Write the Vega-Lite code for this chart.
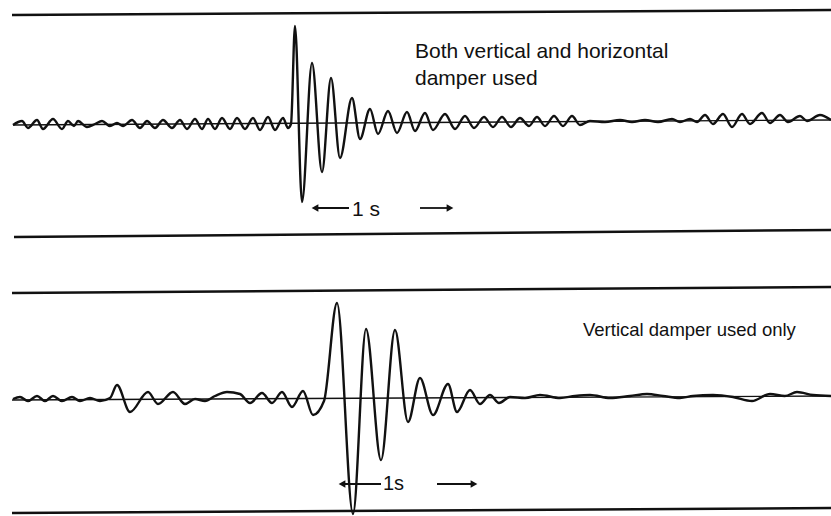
{
  "$schema": "https://vega.github.io/schema/vega-lite/v6.json",
  "padding": 0,
  "spacing": 0,
  "background": "white",
  "config": {"view": {"stroke": null}},
  "datasets": {
    "topTrace": [
      {"t":13,"d":0},{"t":22,"d":4},{"t":28,"d":-3},{"t":37,"d":5},{"t":43,"d":-4},{"t":53,"d":6},{"t":62,"d":-4},{"t":68,"d":4},{"t":74,"d":-1},{"t":78,"d":4},{"t":87,"d":-2},{"t":95,"d":1},{"t":102,"d":4},{"t":110,"d":-1},{"t":117,"d":2},{"t":123,"d":-1},{"t":132,"d":5},{"t":140,"d":-3},{"t":147,"d":4},{"t":155,"d":-3},{"t":163,"d":5},{"t":172,"d":-3},{"t":180,"d":5},{"t":187,"d":-4},{"t":195,"d":6},{"t":202,"d":-4},{"t":208,"d":6},{"t":215,"d":-4},{"t":222,"d":7},{"t":230,"d":-4},{"t":237,"d":7},{"t":245,"d":-4},{"t":253,"d":7},{"t":260,"d":-5},{"t":268,"d":8},{"t":275,"d":-5},{"t":283,"d":7},{"t":288,"d":-3},{"t":291,"d":1},
      {"t":295,"d":99},{"t":302,"d":-77},{"t":312,"d":62},{"t":322,"d":-47},{"t":331,"d":47},{"t":340,"d":-33},{"t":352,"d":27},{"t":360,"d":-14},{"t":370,"d":16},{"t":378,"d":-9},{"t":388,"d":14},{"t":397,"d":-8},{"t":407,"d":13},{"t":415,"d":-6},{"t":425,"d":12},{"t":433,"d":-5},{"t":445,"d":11},{"t":455,"d":-4},{"t":465,"d":9},{"t":474,"d":-3},{"t":484,"d":8},{"t":493,"d":-2},{"t":502,"d":8},{"t":511,"d":-2},{"t":520,"d":7},{"t":529,"d":-1},{"t":537,"d":8},{"t":545,"d":-1},{"t":554,"d":9},{"t":563,"d":-1},{"t":572,"d":9},{"t":580,"d":0},
      {"t":590,"d":4},{"t":605,"d":3},{"t":620,"d":5},{"t":632,"d":3},{"t":645,"d":5},{"t":658,"d":3},{"t":672,"d":6},{"t":680,"d":3},{"t":690,"d":6},{"t":697,"d":3},{"t":705,"d":10},{"t":713,"d":1},{"t":723,"d":11},{"t":732,"d":-2},{"t":742,"d":11},{"t":750,"d":1},{"t":762,"d":12},{"t":770,"d":2},{"t":780,"d":10},{"t":788,"d":3},{"t":800,"d":9},{"t":807,"d":4},{"t":820,"d":10},{"t":831,"d":5}
    ],
    "botTrace": [
      {"t":13,"d":1},{"t":20,"d":3},{"t":28,"d":-1},{"t":37,"d":4},{"t":45,"d":-1},{"t":53,"d":4},{"t":62,"d":-1},{"t":72,"d":3},{"t":80,"d":-1},{"t":90,"d":2},{"t":100,"d":-1},{"t":110,"d":2},{"t":117,"d":15},{"t":130,"d":-12},{"t":148,"d":8},{"t":158,"d":-4},{"t":173,"d":8},{"t":185,"d":-4},{"t":195,"d":1},{"t":205,"d":-1},{"t":215,"d":4},{"t":227,"d":8},{"t":240,"d":6},{"t":250,"d":-3},{"t":262,"d":7},{"t":272,"d":-3},{"t":282,"d":8},{"t":292,"d":-7},{"t":303,"d":9},{"t":313,"d":-15},{"t":324,"d":-1},
      {"t":337,"d":97},{"t":353,"d":-114},{"t":366,"d":71},{"t":381,"d":-60},{"t":395,"d":70},{"t":408,"d":-22},{"t":420,"d":22},{"t":433,"d":-15},{"t":448,"d":16},{"t":457,"d":-12},{"t":470,"d":10},{"t":480,"d":-4},{"t":490,"d":5},{"t":499,"d":-3},{"t":510,"d":3},
      {"t":525,"d":2},{"t":540,"d":5},{"t":560,"d":2},{"t":575,"d":4},{"t":590,"d":5},{"t":610,"d":2},{"t":630,"d":4},{"t":647,"d":6},{"t":663,"d":4},{"t":680,"d":2},{"t":693,"d":4},{"t":713,"d":5},{"t":733,"d":3},{"t":752,"d":-1},{"t":770,"d":6},{"t":785,"d":4},{"t":797,"d":8},{"t":813,"d":5},{"t":831,"d":4}
    ],
    "topFrame": [
      {"id":"upper","t":12,"d":110},{"id":"upper","t":831,"d":115},
      {"id":"lower","t":14,"d":-112},{"id":"lower","t":831,"d":-105}
    ],
    "topBase": [{"t":13,"d":0},{"t":831,"d":5}],
    "botFrame": [
      {"id":"upper","t":12,"d":107},{"id":"upper","t":831,"d":113},
      {"id":"lower","t":12,"d":-113},{"id":"lower","t":831,"d":-108}
    ],
    "botBase": [{"t":12,"d":0},{"t":831,"d":4}],
    "topText": [
      {"t":415,"d":67,"label":"Both vertical and horizontal"},
      {"t":415,"d":40,"label":"damper used"}
    ],
    "botText": [
      {"t":583,"d":64,"label":"Vertical damper used only"}
    ],
    "topScale": [{"t":352,"d":-91,"label":"1 s"}],
    "botScale": [{"t":383,"d":-90,"label":"1s"}],
    "topShafts": [{"t":316,"t2":349,"d":-83},{"t":420,"t2":448,"d":-83}],
    "botShafts": [{"t":342,"t2":381,"d":-84},{"t":437,"t2":472,"d":-84}],
    "topHeads": [{"t":315,"d":-83,"dir":"triangle-left"},{"t":450,"d":-83,"dir":"triangle-right"}],
    "botHeads": [{"t":342,"d":-84,"dir":"triangle-left"},{"t":474,"d":-84,"dir":"triangle-right"}]
  },
  "vconcat": [
    {
      "width": 831,
      "height": 258,
      "layer": [
        {
          "data": {"name": "topFrame"},
          "mark": {"type": "line", "color": "#111", "strokeWidth": 2.5},
          "encoding": {
            "x": {"field": "t", "type": "quantitative", "scale": {"domain": [0, 831], "nice": false, "zero": false}, "axis": null},
            "y": {"field": "d", "type": "quantitative", "scale": {"domain": [-133, 125], "nice": false, "zero": false}, "axis": null},
            "detail": {"field": "id"}
          }
        },
        {
          "data": {"name": "topBase"},
          "mark": {"type": "line", "color": "#111", "strokeWidth": 1.4},
          "encoding": {
            "x": {"field": "t", "type": "quantitative", "scale": {"domain": [0, 831], "nice": false, "zero": false}, "axis": null},
            "y": {"field": "d", "type": "quantitative", "scale": {"domain": [-133, 125], "nice": false, "zero": false}, "axis": null}
          }
        },
        {
          "data": {"name": "topTrace"},
          "mark": {"type": "line", "color": "#111", "strokeWidth": 2.4, "interpolate": "monotone"},
          "encoding": {
            "x": {"field": "t", "type": "quantitative", "scale": {"domain": [0, 831], "nice": false, "zero": false}, "axis": null},
            "y": {"field": "d", "type": "quantitative", "scale": {"domain": [-133, 125], "nice": false, "zero": false}, "axis": null}
          }
        },
        {
          "data": {"name": "topText"},
          "mark": {"type": "text", "align": "left", "baseline": "alphabetic", "font": "Liberation Sans", "fontSize": 21, "color": "#111"},
          "encoding": {
            "x": {"field": "t", "type": "quantitative", "scale": {"domain": [0, 831], "nice": false, "zero": false}, "axis": null},
            "y": {"field": "d", "type": "quantitative", "scale": {"domain": [-133, 125], "nice": false, "zero": false}, "axis": null},
            "text": {"field": "label"}
          }
        },
        {
          "data": {"name": "topScale"},
          "mark": {"type": "text", "align": "left", "baseline": "alphabetic", "font": "Liberation Sans", "fontSize": 21, "color": "#111"},
          "encoding": {
            "x": {"field": "t", "type": "quantitative", "scale": {"domain": [0, 831], "nice": false, "zero": false}, "axis": null},
            "y": {"field": "d", "type": "quantitative", "scale": {"domain": [-133, 125], "nice": false, "zero": false}, "axis": null},
            "text": {"field": "label"}
          }
        },
        {
          "data": {"name": "topShafts"},
          "mark": {"type": "rule", "color": "#111", "strokeWidth": 1.8},
          "encoding": {
            "x": {"field": "t", "type": "quantitative", "scale": {"domain": [0, 831], "nice": false, "zero": false}, "axis": null},
            "x2": {"field": "t2"},
            "y": {"field": "d", "type": "quantitative", "scale": {"domain": [-133, 125], "nice": false, "zero": false}, "axis": null}
          }
        },
        {
          "data": {"name": "topHeads"},
          "mark": {"type": "point", "filled": true, "color": "#111", "size": 60, "opacity": 1},
          "encoding": {
            "x": {"field": "t", "type": "quantitative", "scale": {"domain": [0, 831], "nice": false, "zero": false}, "axis": null},
            "y": {"field": "d", "type": "quantitative", "scale": {"domain": [-133, 125], "nice": false, "zero": false}, "axis": null},
            "shape": {"field": "dir", "type": "nominal", "scale": {"domain": ["triangle-left", "triangle-right"], "range": ["triangle-left", "triangle-right"]}, "legend": null}
          }
        }
      ]
    },
    {
      "width": 831,
      "height": 258,
      "layer": [
        {
          "data": {"name": "botFrame"},
          "mark": {"type": "line", "color": "#111", "strokeWidth": 2.5},
          "encoding": {
            "x": {"field": "t", "type": "quantitative", "scale": {"domain": [0, 831], "nice": false, "zero": false}, "axis": null},
            "y": {"field": "d", "type": "quantitative", "scale": {"domain": [-116, 142], "nice": false, "zero": false}, "axis": null},
            "detail": {"field": "id"}
          }
        },
        {
          "data": {"name": "botBase"},
          "mark": {"type": "line", "color": "#111", "strokeWidth": 1.4},
          "encoding": {
            "x": {"field": "t", "type": "quantitative", "scale": {"domain": [0, 831], "nice": false, "zero": false}, "axis": null},
            "y": {"field": "d", "type": "quantitative", "scale": {"domain": [-116, 142], "nice": false, "zero": false}, "axis": null}
          }
        },
        {
          "data": {"name": "botTrace"},
          "mark": {"type": "line", "color": "#111", "strokeWidth": 2.4, "interpolate": "monotone"},
          "encoding": {
            "x": {"field": "t", "type": "quantitative", "scale": {"domain": [0, 831], "nice": false, "zero": false}, "axis": null},
            "y": {"field": "d", "type": "quantitative", "scale": {"domain": [-116, 142], "nice": false, "zero": false}, "axis": null}
          }
        },
        {
          "data": {"name": "botText"},
          "mark": {"type": "text", "align": "left", "baseline": "alphabetic", "font": "Liberation Sans", "fontSize": 18.5, "color": "#111"},
          "encoding": {
            "x": {"field": "t", "type": "quantitative", "scale": {"domain": [0, 831], "nice": false, "zero": false}, "axis": null},
            "y": {"field": "d", "type": "quantitative", "scale": {"domain": [-116, 142], "nice": false, "zero": false}, "axis": null},
            "text": {"field": "label"}
          }
        },
        {
          "data": {"name": "botScale"},
          "mark": {"type": "text", "align": "left", "baseline": "alphabetic", "font": "Liberation Sans", "fontSize": 20, "color": "#111"},
          "encoding": {
            "x": {"field": "t", "type": "quantitative", "scale": {"domain": [0, 831], "nice": false, "zero": false}, "axis": null},
            "y": {"field": "d", "type": "quantitative", "scale": {"domain": [-116, 142], "nice": false, "zero": false}, "axis": null},
            "text": {"field": "label"}
          }
        },
        {
          "data": {"name": "botShafts"},
          "mark": {"type": "rule", "color": "#111", "strokeWidth": 1.8},
          "encoding": {
            "x": {"field": "t", "type": "quantitative", "scale": {"domain": [0, 831], "nice": false, "zero": false}, "axis": null},
            "x2": {"field": "t2"},
            "y": {"field": "d", "type": "quantitative", "scale": {"domain": [-116, 142], "nice": false, "zero": false}, "axis": null}
          }
        },
        {
          "data": {"name": "botHeads"},
          "mark": {"type": "point", "filled": true, "color": "#111", "size": 60, "opacity": 1},
          "encoding": {
            "x": {"field": "t", "type": "quantitative", "scale": {"domain": [0, 831], "nice": false, "zero": false}, "axis": null},
            "y": {"field": "d", "type": "quantitative", "scale": {"domain": [-116, 142], "nice": false, "zero": false}, "axis": null},
            "shape": {"field": "dir", "type": "nominal", "scale": {"domain": ["triangle-left", "triangle-right"], "range": ["triangle-left", "triangle-right"]}, "legend": null}
          }
        }
      ]
    }
  ]
}
